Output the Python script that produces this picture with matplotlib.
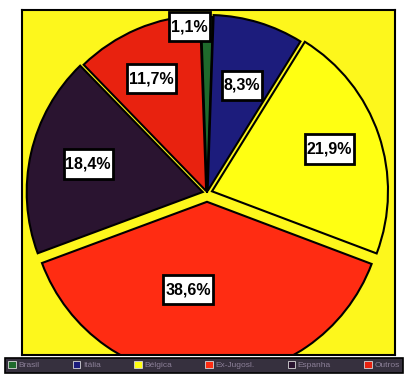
import numpy as np
import matplotlib
matplotlib.use("Agg")
import matplotlib.pyplot as plt
from matplotlib.patches import Patch
from matplotlib.path import Path

# dados (sentido horario a partir do topo)
valores = [1.1, 8.3, 21.9, 38.6, 18.4, 11.7]
rotulos = ["1,1%", "8,3%", "21,9%", "38,6%", "18,4%", "11,7%"]
legenda = ["Brasil", "Itália", "Bélgica", "Ex-Jugosl.", "Espanha", "Outros"]
cores = ["#1f6a2c", "#1c1c7c", "#ffff12", "#ff2c12", "#2a1430", "#e8220f"]
# deslocamento das fatias (fracao do raio)
explode = [0.0, 0.012, 0.03, 0.05, 0.025, 0.012]
dist_rotulo = [0.95, 0.63, 0.71, 0.51, 0.67, 0.71]
desvio_ang = [6, -1, 1, -12, -1, 3]

plt.rcParams["font.family"] = ["Liberation Sans", "DejaVu Sans"]

W, H = 405, 385
fig = plt.figure(figsize=(W / 100, H / 100), dpi=100)
fig.patch.set_facecolor("white")

# quadro amarelo (coordenadas em pixels, y para cima)
x0, x1, ytop, ybot = 22, 395, 10, 355
ax = fig.add_axes([x0 / W, (H - ybot) / H, (x1 - x0) / W, (ybot - ytop) / H])
ax.set_facecolor("#fdf71c")

cx, cy, R = 207, H - 193, 176
wedges, _ = ax.pie(valores, colors=cores, explode=[e * R for e in explode],
                   startangle=92, counterclock=False, center=(cx, cy),
                   radius=R, frame=True,
                   wedgeprops=dict(edgecolor="black", linewidth=1.5))
for w in wedges:
    w.set_clip_on(True)
    w.set_clip_path(ax.patch)
ax.set_xlim(x0, x1)
ax.set_ylim(H - ybot, H - ytop)
ax.set_xticks([])
ax.set_yticks([])
for s in ax.spines.values():
    s.set_linewidth(1.5)
    s.set_color("black")


def caixa(x0, y0, width, height, mutation_size):
    # caixa retangular com mais folga na vertical
    px, py = 0.12 * mutation_size, 0.45 * mutation_size
    xa, xb = x0 - px, x0 + width + px
    ya, yb = y0 - py, y0 + height + py
    return Path([(xa, ya), (xb, ya), (xb, yb), (xa, yb), (xa, ya)], closed=True)


# rotulos de percentagem
for w, txt, d, da in zip(wedges, rotulos, dist_rotulo, desvio_ang):
    ang = np.deg2rad((w.theta1 + w.theta2) / 2 + da)
    wx, wy = w.center
    ax.text(wx + d * R * np.cos(ang), wy + d * R * np.sin(ang), txt,
            ha="center", va="center", fontsize=11.5, fontweight="bold",
            bbox=dict(boxstyle=caixa, facecolor="white",
                      edgecolor="black", linewidth=2), zorder=5)

# legenda em faixa escura
handles = [Patch(facecolor=c, edgecolor="#d8d8d8", linewidth=0.6) for c in cores]
leg = fig.legend(handles, legenda, ncol=6, loc="center", mode="expand",
                 bbox_to_anchor=(5 / W, (H - 375) / H, 398 / W, 20 / H),
                 fontsize=6, frameon=True, fancybox=False,
                 handlelength=0.9, handleheight=0.9, handletextpad=0.3,
                 columnspacing=0.5, borderpad=0.4, borderaxespad=0)
leg.get_frame().set_facecolor("#36303e")
leg.get_frame().set_edgecolor("black")
leg.get_frame().set_linewidth(1.2)
leg.get_frame().set_alpha(1)
for t in leg.get_texts():
    t.set_color("#8c8098")

fig.savefig("out.png", dpi=100)
